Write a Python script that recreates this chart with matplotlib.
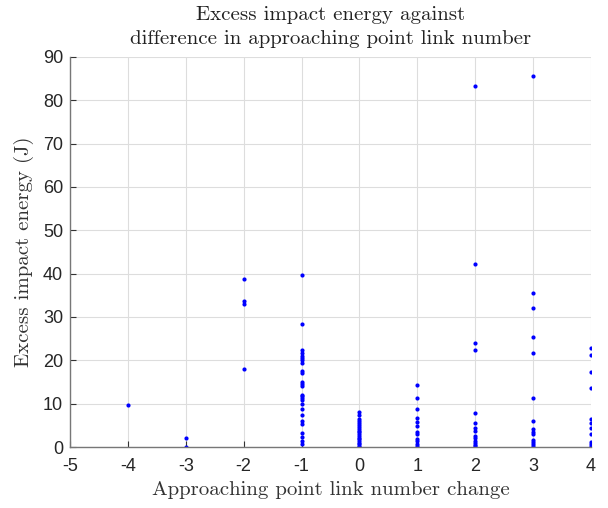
import matplotlib
matplotlib.use("Agg")
import matplotlib.pyplot as plt

x_m4 = [9.8]
x_m3 = [2.2, 0.1]
x_m2 = [38.8, 33.7, 33.1, 18.1]
x_m1 = [39.6, 28.4, 22.3, 21.7, 21.1, 20.5, 20.0, 19.4, 17.5, 17.1, 15.0, 14.5, 14.0,
        12.1, 11.7, 11.3, 10.9, 10.0, 8.8, 7.3, 6.0, 5.4, 3.2, 2.3, 1.5, 0.7]
x_0 = [8.1, 7.4, 6.5, 6.0, 5.5, 5.0, 4.6, 4.2, 3.8, 3.4, 3.0, 2.6, 2.2, 1.8, 1.4, 1.0, 0.6, 0.3, 0.1]
x_1 = [14.4, 11.4, 8.8, 6.8, 5.7, 4.8, 3.5, 3.1, 1.8, 1.3, 0.8, 0.2]
x_2 = [83.3, 42.3, 24.0, 22.5, 7.8, 5.5, 4.5, 3.6, 2.6, 2.0, 1.5, 1.0, 0.5, 0.2]
x_3 = [85.7, 35.6, 32.1, 25.4, 21.6, 11.4, 6.1, 4.1, 3.4, 2.9, 1.7, 1.2, 0.8, 0.3]
x_4 = [22.9, 21.3, 17.4, 13.6, 6.4, 5.5, 4.3, 2.9, 1.2, 0.6, 0.2]

groups = [(-4, x_m4), (-3, x_m3), (-2, x_m2), (-1, x_m1), (0, x_0),
          (1, x_1), (2, x_2), (3, x_3), (4, x_4)]
xticks = [-5, -4, -3, -2, -1, 0, 1, 2, 3, 4]
yticks = [0, 10, 20, 30, 40, 50, 60, 70, 80, 90]

fig = plt.figure(figsize=(6.08, 5.08), dpi=100)
ax = fig.add_axes([0.115, 0.12, 0.857, 0.768])

xs, ys = [], []
for xv, vals in groups:
    xs += [xv] * len(vals)
    ys += vals
ax.plot(xs, ys, linestyle='none', marker='o', markersize=3.0, color='#0000ff',
        markeredgewidth=0)

ax.set_xlim(-5, 4)
ax.set_ylim(0, 90)
ax.set_xticks(xticks)
ax.set_yticks(yticks)
ax.set_xticklabels([str(t) for t in xticks], family='Liberation Sans', fontsize=13, color='#262626')
ax.set_yticklabels([str(t) for t in yticks], family='Liberation Sans', fontsize=13, color='#262626')
ax.grid(True, color='#dddddd', linewidth=0.8)
ax.set_axisbelow(True)
ax.tick_params(axis='x', direction='in', length=4, color='#333333', width=0.8, pad=8)
ax.tick_params(axis='y', direction='in', length=4, color='#333333', width=0.8, pad=5)
for s in ['top', 'right']:
    ax.spines[s].set_visible(False)
for s in ['left', 'bottom']:
    ax.spines[s].set_color('#777777')
    ax.spines[s].set_linewidth(1.0)

ax.set_title('Excess impact energy against\ndifference in approaching point link number',
             family='cmr10', fontsize=15, pad=9, linespacing=1.45, color='#222222')
ax.set_xlabel('Approaching point link number change', family='cmr10', fontsize=15,
              labelpad=4, color='#333333')
ax.set_ylabel('Excess impact energy (J)', family='cmr10', fontsize=15,
              labelpad=6, color='#333333')

fig.savefig('out.png', dpi=100)
